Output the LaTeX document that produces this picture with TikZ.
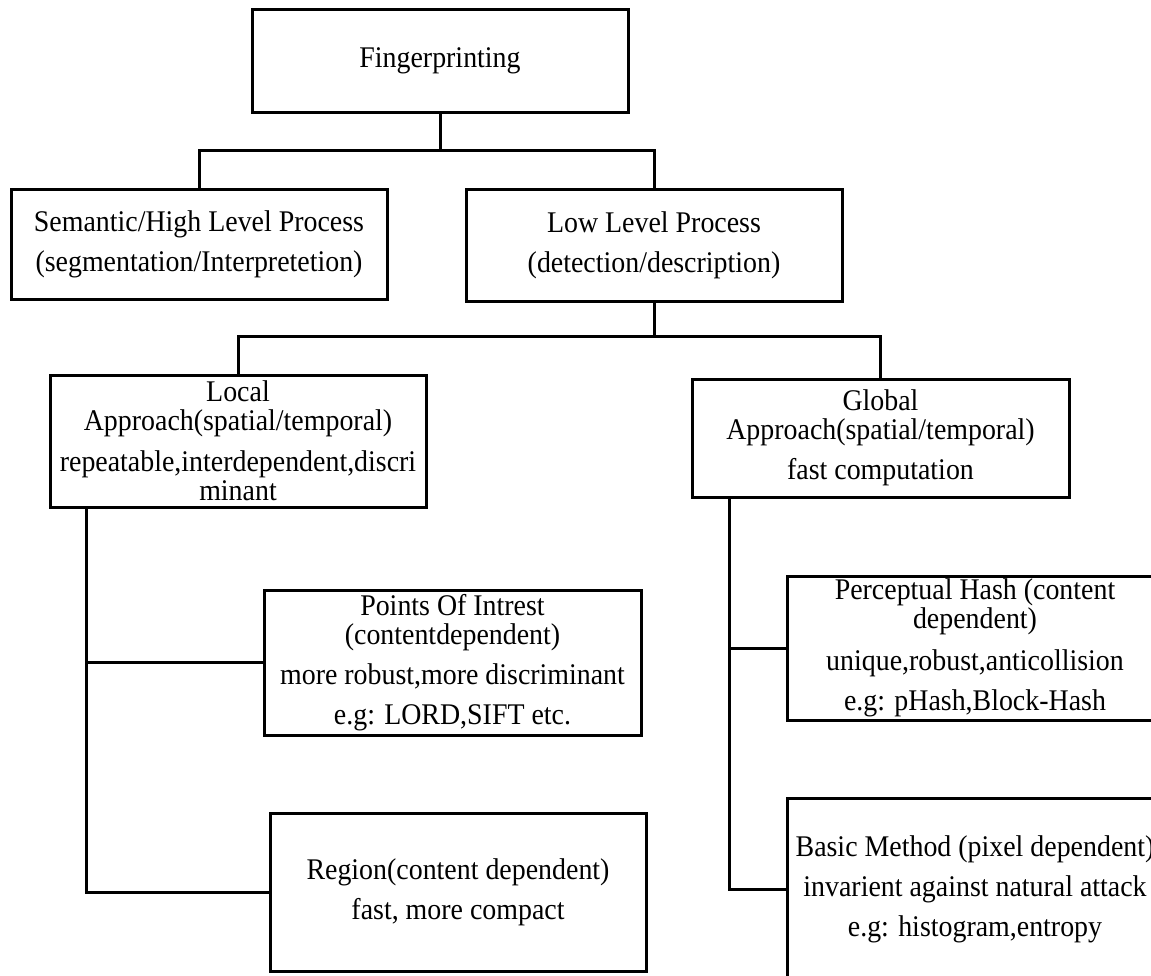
\documentclass[tikz,border=0pt]{standalone}
\usepackage{fontspec}
\setmainfont{Liberation Serif}[FakeStretch=0.93]
\begin{document}
\begin{tikzpicture}[x=1pt,y=-1pt,
  box/.style={draw, line width=3pt, rectangle, align=center, inner sep=0pt,
    font=\fontsize{30}{29}\selectfont},
  conn/.style={line width=3pt}]
\useasboundingbox (0,0) rectangle (1151,975);
\begin{scope}
\clip (0,0) rectangle (1151,975);
\node[box, minimum width=376pt, minimum height=103pt] (fp) at (440,60.5) {Fingerprinting};
\node[box, minimum width=376pt, minimum height=110pt] (sem) at (199,244)
  {Semantic/High Level Process\\[11pt](segmentation/Interpretetion)};
\node[box, minimum width=376pt, minimum height=112pt] (low) at (654,245)
  {Low Level Process\\[11pt](detection/description)};
\node[box, minimum width=376pt, minimum height=132pt] (loc) at (238,441)
  {Local\\Approach(spatial/temporal)\\[12pt]repeatable,interdependent,discri\\minant};
\node[box, minimum width=377pt, minimum height=118pt] (glob) at (880.5,438)
  {Global\\Approach(spatial/temporal)\\[11pt]fast computation};
\node[box, minimum width=377pt, minimum height=145pt] (poi) at (452.5,662.5)
  {Points Of Intrest\\(contentdependent)\\[11pt]more robust,more discriminant\\[11pt]e.g: LORD,SIFT etc.};
\node[box, minimum width=376pt, minimum height=158pt] (reg) at (458,892)
  {Region(content dependent)\\[11pt]fast, more compact};
\node[box, minimum width=376pt, minimum height=144pt] (per) at (975,648)
  {Perceptual Hash (content\\dependent)\\[13pt]unique,robust,anticollision\\[11pt]e.g: pHash,Block-Hash};
\node[box, minimum width=376pt, minimum height=182pt] (bas) at (975,889)
  {Basic Method (pixel dependent)\\[11pt]invarient against natural attack\\[11pt]e.g: histogram,entropy};

\coordinate (j1) at (440,150);
\coordinate (j2) at (654,336);
\coordinate (lt) at ([xshift=38pt]loc.south west);
\coordinate (gt) at ([xshift=39pt]glob.south west);

\draw[conn] (fp.south) -- (j1);
\draw[conn] (sem.north) |- (j1) -| (low.north);
\draw[conn] (low.south) -- (j2);
\draw[conn] (loc.north) |- (j2) -| (glob.north);
\draw[conn] (lt) |- (reg.west);
\draw[conn] (poi.west) -| (lt);
\draw[conn] (gt) |- (bas.west);
\draw[conn] (per.west) -| (gt);
\end{scope}
\end{tikzpicture}
\end{document}
